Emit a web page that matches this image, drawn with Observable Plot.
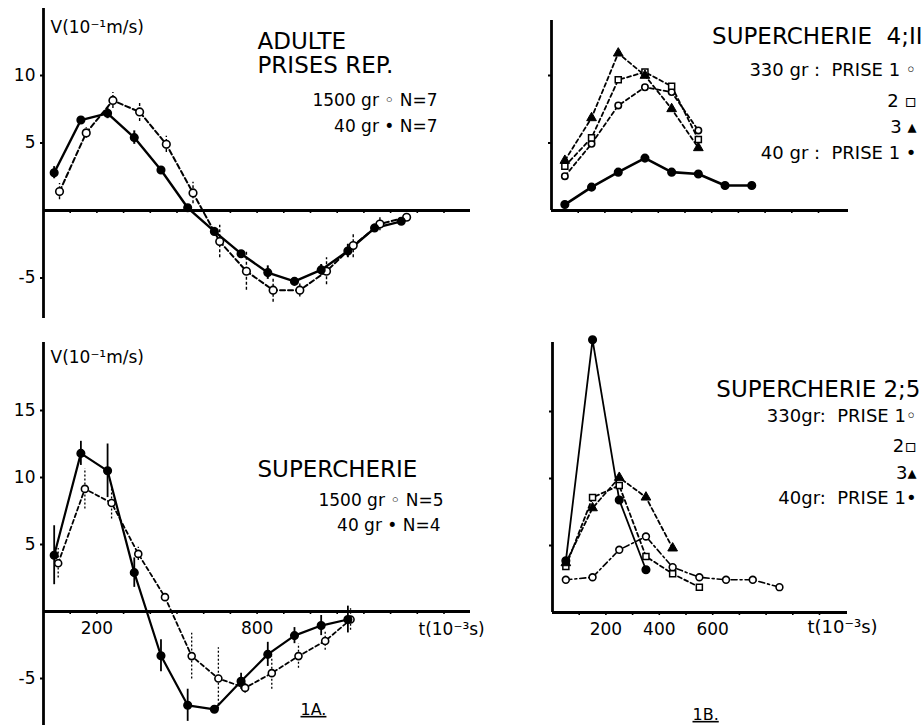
<!DOCTYPE html>
<html><head><meta charset="utf-8">
<script src="https://cdn.jsdelivr.net/npm/d3@7"></script>
<script src="https://cdn.jsdelivr.net/npm/@observablehq/plot@0.6"></script>
<style>
body{margin:0;background:#fff;}
#fig{position:relative;width:924px;height:725px;overflow:hidden;background:#fff;}
#fig svg{position:absolute;overflow:visible;}
</style></head><body><div id="fig"></div>
<script>
const FONT = '"DejaVu Sans", "Liberation Sans", sans-serif';

// ---------- 1A top : ADULTE, PRISES REP. ----------
const adulteT40   = [40,140,240,340,440,540,640,740,840,940,1040,1140,1240,1340];
const adulteV40   = [2.8,6.7,7.2,5.4,3.0,0.2,-1.55,-3.2,-4.6,-5.25,-4.4,-3.0,-1.3,-0.8];
const adulteE40   = [0.45,0,0.4,0.5,0,0,0.3,0,0.5,0,0.4,0.5,0.3,0];
const adulteT1500 = [60,160,260,360,460,560,660,760,860,960,1060,1160,1260,1360];
const adulteV1500 = [1.4,5.75,8.15,7.3,4.9,1.3,-2.3,-4.5,-5.9,-5.9,-4.5,-2.6,-1.0,-0.5];
const adulteE1500 = [0.6,0.4,0.6,0.7,0.6,0.8,1.2,1.4,0.9,0.5,1.0,0.9,0.5,0];

// ---------- 1A bottom : SUPERCHERIE ----------
const superT40   = [40,140,240,340,440,540,640,740,840,940,1040,1140];
const superV40   = [4.2,11.8,10.5,2.9,-3.3,-7.0,-7.3,-5.2,-3.2,-1.8,-1.05,-0.6];
const superE40   = [2.2,0.9,2.0,1.1,1.2,1.2,0,0.6,0.9,0.6,0.75,1.0];
const superT1500 = [55,155,255,355,455,555,655,755,855,955,1055,1150];
const superV1500 = [3.6,9.15,8.1,4.3,1.07,-3.33,-5.0,-5.7,-4.6,-3.33,-2.2,-0.6];
const superE1500 = [1.1,1.5,1.2,0.5,0,1.7,2.3,0.4,1.2,0.9,0.7,0.8];

// ---------- 1B top : SUPERCHERIE 4;II ----------
const s4T     = [50,150,250,350,450,550,650,750];
const s4V40   = [0.44,1.73,2.84,3.88,2.84,2.7,1.85,1.85];
const s4VP1   = [2.54,4.94,7.78,9.13,8.77,5.93];
const s4VP2   = [3.28,5.38,9.68,10.25,9.2,5.26];
const s4VP3   = [3.7,6.86,11.65,10.0,7.53,4.64];

// ---------- 1B bottom : SUPERCHERIE 2;5 ----------
const s2T     = [50,150,250,350,450,550,650,750,850];
const s2V40   = [3.86,20.35,8.4,3.19];
const s2VP1   = [2.44,2.63,4.68,5.67,3.38,2.63,2.44,2.44,1.89];
const s2VP2   = [3.43,8.58,9.48,4.18,2.89,1.89];
const s2VP3   = [3.7,7.8,10.07,8.6,4.8];

// ticks
const leftTimeTicks  = [100,200,300,400,500,600,700,800,900,1000,1100,1200,1300,1400,1500];
const rightTimeTicks = [100,200,300,400,500,600,700,800,900,1000];
const blTimeLabels = [200,800];
const brTimeLabels = [200,400,600];
const tlYTicks = [10,5,-5];
const blYTicks = [15,10,5,-5];
const trYTicks = [5,10];
const brYTicks = [5,10,15];

const rows = (ts, vs, es) => vs.map((v,i) => ({t: ts[i], v, e: es ? es[i] : 0}));
const hy = d => d < 0 ? "-" + Math.abs(d) : String(d);

const fig = document.getElementById("fig");
const PXMS = 0.267;

function makePanel(p) {
  const ml = p.axisX - p.left, mt = p.axisTop - p.top, mb = p.top + p.height - p.axisBottom;
  const mr = p.width - (p.xEnd - p.left);
  const xMax = (p.xEnd - p.axisX) / PXMS;
  const yMax = (p.zeroY - p.axisTop) / p.ppu;
  const yMin = (p.zeroY - p.axisBottom) / p.ppu;
  // gx, gy: page position of the text's start/end and cap top
  const lab = (text, gx, gy, size, anchor) => Plot.text([text], {
    text: d => d, frameAnchor: "top-left", dx: gx - p.axisX, dy: gy - p.axisTop,
    textAnchor: anchor || "start", lineAnchor: "top", fontSize: size, fill: "black"
  });
  const marks = [
    Plot.ruleX([0], {strokeWidth: 2.8, stroke: "black"}),
    Plot.ruleY([0], {strokeWidth: 2.8, stroke: "black"}),
    Plot.axisY({ticks: p.yTicks, tickSize: 3, tickPadding: 5, fontSize: 17, label: null,
      tickFormat: p.yLabels ? hy : () => "", strokeWidth: 2}),
    Plot.ruleX(p.xTicks, {x: d => d, y1: 0, y2: -3 / p.ppu, strokeWidth: 1.6}),
    ...(p.xLabels ? [Plot.text(p.xLabels, {x: d => d, y: 0, dy: 10, text: d => String(d),
      lineAnchor: "top", fontSize: 17, fill: "black"})] : []),
    ...p.marks,
    ...p.labels.map(l => lab(l[0], l[1], l[2], l[3], l[4]))
  ];
  const svg = Plot.plot({
    width: p.width, height: p.height,
    marginLeft: ml, marginRight: mr, marginTop: mt, marginBottom: mb,
    x: {domain: [0, xMax], axis: null},
    y: {domain: [yMin, yMax], axis: null},
    style: {fontFamily: FONT, background: "transparent", color: "black"},
    marks
  });
  svg.style.left = p.left + "px";
  svg.style.top = p.top + "px";
  d3.select(svg).selectAll("text").filter(function(){ return /^1[AB]\.$/.test(this.textContent); })
    .style("text-decoration", "underline");
  fig.appendChild(svg);
}

const filled = (data) => Plot.dot(data, {x: "t", y: "v", r: 3.8, fill: "black", stroke: "black"});
const openC = (data, r=3.8) => Plot.dot(data, {x: "t", y: "v", r, fill: "white", stroke: "black", strokeWidth: 1.6});
const openS = (data) => Plot.dot(data, {x: "t", y: "v", r: 3.4, symbol: "square", fill: "white", stroke: "black", strokeWidth: 1.5});
const tri = (data) => Plot.dot(data, {x: "t", y: "v", r: 3.6, symbol: "triangle", fill: "black", stroke: "black", strokeWidth: 1});
const errs = (data, dash, w) => Plot.ruleX(data.filter(d => d.e > 0), {x: "t", y1: d => d.v - d.e, y2: d => d.v + d.e,
  stroke: "black", strokeWidth: w || 1.6, strokeDasharray: dash});

// --- Top-left panel
{
  const a40 = rows(adulteT40, adulteV40, adulteE40);
  const a15 = rows(adulteT1500, adulteV1500, adulteE1500);
  makePanel({
    left: 0, top: 0, width: 470, height: 320,
    axisX: 43, xEnd: 470, axisTop: 8, axisBottom: 318, zeroY: 210, ppu: 13.5,
    yTicks: tlYTicks, yLabels: true, xTicks: leftTimeTicks,
    marks: [
      Plot.line(a15, {x: "t", y: "v", stroke: "black", strokeWidth: 2, strokeDasharray: "5,3"}),
      Plot.line(a40, {x: "t", y: "v", stroke: "black", strokeWidth: 2.4}),
      errs(a15, "3,2", 1.4), errs(a40, null, 2),
      openC(a15), filled(a40)
    ],
    labels: [
      ["V(10⁻¹m/s)", 50, 20, 17],
      ["ADULTE", 257, 32, 23],
      ["PRISES REP.", 257, 56, 23],
      ["1500 gr ◦ N=7", 437, 93, 17, "end"],
      ["40 gr • N=7", 437, 119, 17, "end"]
    ]
  });
}

// --- Bottom-left panel
{
  const s40 = rows(superT40, superV40, superE40);
  const s15 = rows(superT1500, superV1500, superE1500);
  makePanel({
    left: 0, top: 320, width: 470, height: 405,
    axisX: 43, xEnd: 470, axisTop: 342, axisBottom: 725, zeroY: 611, ppu: 13.4,
    yTicks: blYTicks, yLabels: true, xTicks: leftTimeTicks, xLabels: blTimeLabels,
    marks: [
      Plot.line(s15, {x: "t", y: "v", stroke: "black", strokeWidth: 1.8, strokeDasharray: "4,3"}),
      Plot.line(s40, {x: "t", y: "v", stroke: "black", strokeWidth: 2.2}),
      errs(s15, "2,2", 1.3), errs(s40, null, 1.8),
      openC(s15, 3.5), filled(s40)
    ],
    labels: [
      ["V(10⁻¹m/s)", 50, 350, 17],
      ["SUPERCHERIE", 257, 460, 23],
      ["1500 gr ◦ N=5", 443, 493, 17, "end"],
      ["40 gr • N=4", 440, 518, 17, "end"],
      ["t(10⁻³s)", 418, 622, 17],
      ["1A.", 300, 703, 16]
    ]
  });
}

// --- Top-right panel
{
  const f = rows(s4T, s4V40), p1 = rows(s4T, s4VP1), p2 = rows(s4T, s4VP2), p3 = rows(s4T, s4VP3);
  makePanel({
    left: 530, top: 0, width: 394, height: 240,
    axisX: 551, xEnd: 848, axisTop: 20, axisBottom: 210, zeroY: 210, ppu: 13.5,
    yTicks: trYTicks, yLabels: false, xTicks: rightTimeTicks,
    marks: [
      Plot.line(p1, {x: "t", y: "v", stroke: "black", strokeWidth: 1.8, strokeDasharray: "4,3"}),
      Plot.line(p2, {x: "t", y: "v", stroke: "black", strokeWidth: 1.8, strokeDasharray: "4,3"}),
      Plot.line(p3, {x: "t", y: "v", stroke: "black", strokeWidth: 1.8, strokeDasharray: "4,3"}),
      Plot.line(f, {x: "t", y: "v", stroke: "black", strokeWidth: 2.6}),
      openC(p1, 3.2), openS(p2), tri(p3), filled(f)
    ],
    labels: [
      ["SUPERCHERIE  4;II", 922, 27, 23, "end"],
      ["330 gr :  PRISE 1 ◦", 916, 63, 18, "end"],
      ["2 ▫", 916, 94, 18, "end"],
      ["3 ▴", 916, 120, 18, "end"],
      ["40 gr :  PRISE 1 •", 916, 146, 18, "end"]
    ]
  });
}

// --- Bottom-right panel
{
  const f = rows(s2T, s2V40), p1 = rows(s2T, s2VP1), p2 = rows(s2T, s2VP2), p3 = rows(s2T, s2VP3);
  makePanel({
    left: 530, top: 320, width: 394, height: 405,
    axisX: 552, xEnd: 847, axisTop: 342, axisBottom: 612, zeroY: 612, ppu: 13.4,
    yTicks: brYTicks, yLabels: false, xTicks: rightTimeTicks, xLabels: brTimeLabels,
    marks: [
      Plot.line(p1, {x: "t", y: "v", stroke: "black", strokeWidth: 1.6, strokeDasharray: "6,3,2,3"}),
      Plot.line(p2, {x: "t", y: "v", stroke: "black", strokeWidth: 1.8, strokeDasharray: "4,3"}),
      Plot.line(p3, {x: "t", y: "v", stroke: "black", strokeWidth: 1.8, strokeDasharray: "4,3"}),
      Plot.line(f, {x: "t", y: "v", stroke: "black", strokeWidth: 1.8}),
      openC(p1, 3.4), openS(p2), tri(p3), filled(f)
    ],
    labels: [
      ["SUPERCHERIE 2;5", 920, 380, 23, "end"],
      ["330gr:  PRISE 1◦", 916, 409, 18, "end"],
      ["2▫", 916, 439, 18, "end"],
      ["3▴", 916, 466, 18, "end"],
      ["40gr:  PRISE 1•", 916, 491, 18, "end"],
      ["t(10⁻³s)", 807, 620, 18],
      ["1B.", 692, 708, 16]
    ]
  });
}
</script></body></html>
